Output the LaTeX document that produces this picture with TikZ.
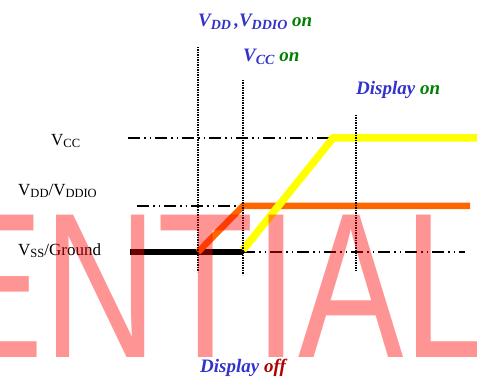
\documentclass[tikz,border=0pt]{standalone}
\usepackage{fontspec}
\usepackage{graphicx}
\setmainfont{Liberation Serif}
\newfontfamily\wmfont{Liberation Sans}
\usetikzlibrary{positioning}
\definecolor{eventblue}{RGB}{51,51,204}
\definecolor{ongreen}{RGB}{0,128,0}
\definecolor{offred}{RGB}{176,0,0}
\definecolor{vddorange}{RGB}{255,102,0}
\definecolor{vccyellow}{RGB}{255,255,0}
\newcommand{\lsub}[1]{\raisebox{-0.25ex}{\fontsize{12.5}{12.5}\selectfont #1}}
\newcommand{\tsub}[1]{\raisebox{-0.25ex}{\fontsize{14}{14}\selectfont #1}}

\begin{document}
\begin{tikzpicture}[x=1pt, y=-1pt,
  level/.style={font=\fontsize{17}{17}\selectfont, anchor=base west, inner sep=0pt},
  event/.style={font=\fontsize{19}{19}\selectfont\bfseries\itshape, text=eventblue, anchor=base west, inner sep=0pt},
  guide/.style={line width=1.2pt, dash pattern=on 1.2pt off 1.3pt},
  refline/.style={line width=1.3pt, dash pattern=on 12pt off 4pt on 1.5pt off 4pt on 1.5pt off 4pt},
  rail/.style={line width=#1}]

\useasboundingbox (0,0) rectangle (477,379);

% LEVELS

\node [level] (vcclabel) at (51,146) {V\lsub{CC}};
\node [level] (vddlabel) at (18,196) {V\lsub{DD}/V\lsub{DDIO}};
\node [level] (vsslabel) at (18,256) {V\lsub{SS}/Ground};

\coordinate (vccstart) at (128,138);
\coordinate (vccknee) at (333,138);
\coordinate (vccend) at (477,138);
\coordinate (vccfoot) at (243,250);

\coordinate (vddstart) at (137,206);
\coordinate (vddknee) at (243,206);
\coordinate (vddend) at (470,206);
\coordinate (vddfoot) at (198,252);

\coordinate (vssstart) at (130,252);
\coordinate (vssknee) at (243,252);
\coordinate (vssend) at (465,252);

\draw [refline] (vccstart) -- (vccknee);
\draw [refline] (vddstart) -- (vddknee);
\draw [refline] (vssknee) -- (vssend);

% RAILS

\draw [rail=6pt, black] (vssstart) -- (vssknee);
\draw [rail=6.5pt, vddorange] (vddfoot) -- (vddknee) -- (vddend);
\draw [rail=7.5pt, vccyellow] (vccfoot) -- (vccknee) -- (vccend);

% EVENTS

\coordinate (vddtop) at (198,47);
\coordinate (vddbottom) at (198,272);
\coordinate (vcctop) at (243,80);
\coordinate (vccbottom) at (243,275);
\coordinate (disptop) at (356,115);
\coordinate (dispbottom) at (356,272);

\draw [guide] (vddtop) -- (vddbottom);
\draw [guide] (vcctop) -- (vccbottom);
\draw [guide] (disptop) -- (dispbottom);

\node [event] (vddon) at (198,27) {V\tsub{DD}\,,V\tsub{DDIO} \textcolor{ongreen}{on}};
\node [event] (vccon) at (243,62) {V\tsub{CC} \textcolor{ongreen}{on}};
\node [event] (dispon) at (356,95) {Display \textcolor{ongreen}{on}};
\node [event] (dispoff) at (200,373) {Display \textcolor{offred}{off}};

% WATERMARK

\node [font=\wmfont\fontsize{158}{158}\selectfont, text=red, text opacity=.42, anchor=base west, inner sep=0pt] (watermark) at (-62,358) {\scalebox{1}[1.31]{ENTIAL}};

\end{tikzpicture}
\end{document}
